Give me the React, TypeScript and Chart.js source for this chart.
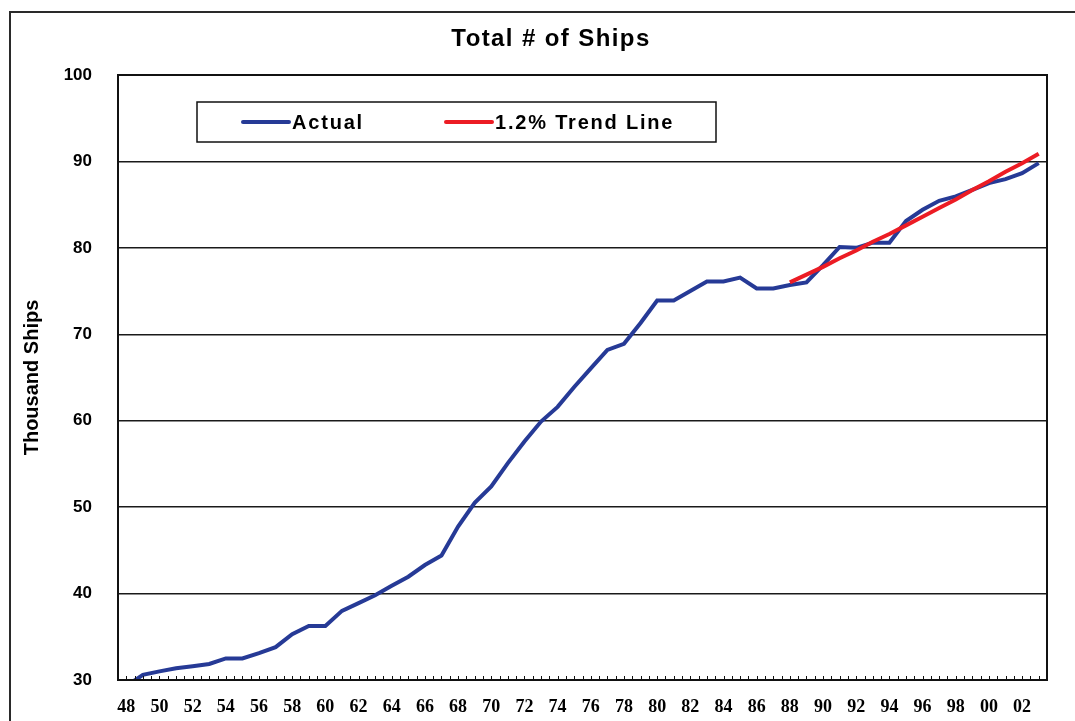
import React, { useEffect, useRef } from "react";
import { Chart, registerables } from "chart.js";

Chart.register(...registerables);

const years: string[] = [
  "48", "49", "50", "51", "52", "53", "54", "55", "56", "57",
  "58", "59", "60", "61", "62", "63", "64", "65", "66", "67",
  "68", "69", "70", "71", "72", "73", "74", "75", "76", "77",
  "78", "79", "80", "81", "82", "83", "84", "85", "86", "87",
  "88", "89", "90", "91", "92", "93", "94", "95", "96", "97",
  "98", "99", "00", "01", "02", "03",
];

const actualShips: number[] = [
  29.3, 30.6, 31.0, 31.35, 31.6, 31.85, 32.5, 32.5, 33.1, 33.8,
  35.3, 36.25, 36.25, 38.0, 38.9, 39.8, 40.9, 41.95, 43.3, 44.4,
  47.75, 50.5, 52.4, 55.1, 57.6, 59.9, 61.6, 63.9, 66.05, 68.2,
  68.9, 71.3, 73.9, 73.9, 75.0, 76.1, 76.1, 76.55, 75.3, 75.3,
  75.7, 76.0, 78.0, 80.1, 80.0, 80.6, 80.6, 83.1, 84.4, 85.45,
  85.95, 86.7, 87.5, 87.95, 88.65, 89.8,
];

const trendYears: string[] = [
  "88", "89", "90", "91", "92", "93", "94", "95",
  "96", "97", "98", "99", "00", "01", "02", "03",
];
const trendShips: number[] = [
  76.0, 76.9, 77.8, 78.8, 79.7, 80.7, 81.6, 82.6,
  83.6, 84.6, 85.6, 86.7, 87.7, 88.8, 89.8, 90.9,
];

const yTicks: number[] = [30, 40, 50, 60, 70, 80, 90, 100];

const TITLE = "Total # of Ships";
const Y_TITLE = "Thousand Ships";
const ACTUAL_LABEL = "Actual";
const TREND_LABEL = "1.2% Trend Line";
const BLUE = "#263a96";
const RED = "#ec1c24";

const decorPlugin = {
  id: "decor",
  beforeDraw(chart: any) {
    const ctx = chart.ctx;
    ctx.save();
    ctx.fillStyle = "#ffffff";
    ctx.fillRect(0, 0, chart.width, chart.height);
    ctx.strokeStyle = "#2a2a2a";
    ctx.lineWidth = 2;
    ctx.strokeRect(10, 12, 1200, 900);
    // title
    ctx.fillStyle = "#000";
    ctx.font = "bold 24px 'Liberation Sans', Arial, sans-serif";
    (ctx as any).letterSpacing = "1.4px";
    ctx.textAlign = "center";
    ctx.textBaseline = "middle";
    ctx.fillText(TITLE, 551, 39);
    ctx.restore();
  },
  afterDraw(chart: any) {
    const ctx = chart.ctx;
    const { left, right, top, bottom } = chart.chartArea;
    ctx.save();
    // plot border
    ctx.strokeStyle = "#111";
    ctx.lineWidth = 2;
    ctx.strokeRect(left, top, right - left, bottom - top);
    // inward minor ticks on x axis
    const n = years.length * 2;
    const step = (right - left) / n;
    ctx.lineWidth = 1;
    ctx.beginPath();
    for (let k = 1; k < n; k++) {
      const x = Math.round(left + k * step) + 0.5;
      ctx.moveTo(x, bottom);
      ctx.lineTo(x, bottom - 4);
    }
    ctx.stroke();
    // legend box
    ctx.fillStyle = "#fff";
    ctx.fillRect(197, 102, 519, 40);
    ctx.strokeStyle = "#111";
    ctx.lineWidth = 1.5;
    ctx.strokeRect(197, 102, 519, 40);
    const items = [
      { label: ACTUAL_LABEL, color: BLUE, x: 243 },
      { label: TREND_LABEL, color: RED, x: 446 },
    ];
    ctx.font = "bold 20px 'Liberation Sans', Arial, sans-serif";
    (ctx as any).letterSpacing = "1.8px";
    ctx.textAlign = "left";
    ctx.textBaseline = "middle";
    for (const it of items) {
      ctx.strokeStyle = it.color;
      ctx.lineWidth = 4;
      ctx.lineCap = "round";
      ctx.beginPath();
      ctx.moveTo(it.x, 122);
      ctx.lineTo(it.x + 46, 122);
      ctx.stroke();
      ctx.fillStyle = "#000";
      ctx.fillText(it.label, it.x + 49, 123);
    }
    ctx.restore();
  },
};

export default function App() {
  const canvasRef = useRef<HTMLCanvasElement | null>(null);

  useEffect(() => {
    if (!canvasRef.current) return;
    const chart = new Chart(canvasRef.current, {
      type: "line",
      data: {
        labels: years,
        datasets: [
          {
            label: TREND_LABEL,
            data: trendYears.map((yr, i) => ({ x: yr, y: trendShips[i] })),
            borderColor: RED,
            backgroundColor: RED,
            borderWidth: 4,
            pointRadius: 0,
            tension: 0,
            order: 0,
          },
          {
            label: ACTUAL_LABEL,
            data: actualShips,
            borderColor: BLUE,
            backgroundColor: BLUE,
            borderWidth: 4,
            pointRadius: 0,
            tension: 0,
            order: 1,
          },
        ],
      },
      options: {
        animation: false,
        responsive: false,
        maintainAspectRatio: false,
        layout: { padding: { left: 0, right: 28, top: 75, bottom: 0 } },
        plugins: {
          legend: { display: false },
          title: { display: false },
          tooltip: { enabled: false },
        },
        scales: {
          x: {
            type: "category",
            offset: true,
            grid: { display: false, drawTicks: false },
            border: { display: true, color: "#111", width: 2 },
            ticks: {
              autoSkip: false,
              maxRotation: 0,
              minRotation: 0,
              padding: 17,
              color: "#000",
              font: { family: "'Liberation Serif', 'Times New Roman', serif", size: 18, weight: "bold" },
              callback: function (this: any, _v: any, index: number) {
                return index % 2 === 0 ? years[index] : "";
              },
            },
            afterFit(scale: any) {
              scale.height = 41;
            },
          },
          y: {
            min: 30,
            max: 100,
            afterBuildTicks(scale: any) {
              scale.ticks = yTicks.map((v) => ({ value: v }));
            },
            grid: { color: "#1a1a1a", lineWidth: 1.5, drawTicks: false },
            border: { display: true, color: "#111", width: 2 },
            ticks: {
              padding: 26,
              color: "#000",
              font: { family: "'Liberation Sans', Arial, sans-serif", size: 17, weight: "bold" },
            },
            title: {
              display: true,
              text: Y_TITLE,
              color: "#000",
              padding: { top: 20, bottom: 0 },
              font: { family: "'Liberation Sans', Arial, sans-serif", size: 20, weight: "bold" },
            },
            afterFit(scale: any) {
              scale.width = 118;
            },
          },
        },
      },
      plugins: [decorPlugin],
    });
    return () => chart.destroy();
  }, []);

  return (
    <div style={{ position: "absolute", left: 0, top: 0, width: 1075, height: 721, overflow: "hidden", background: "#fff" }}>
      <canvas ref={canvasRef} width={1075} height={721} style={{ display: "block" }} />
    </div>
  );
}
